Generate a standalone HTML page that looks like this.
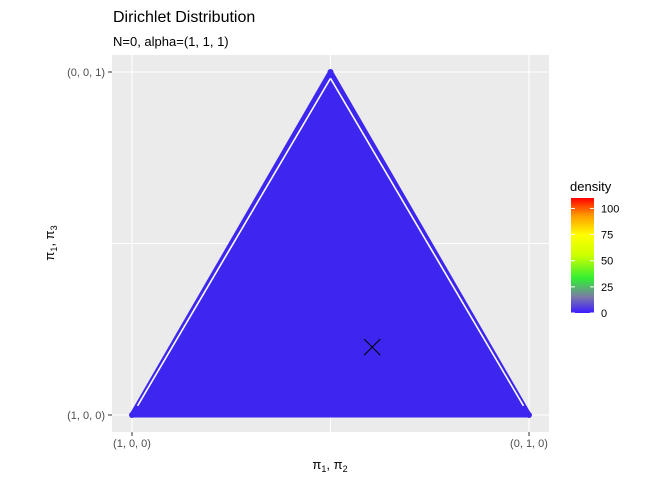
<!DOCTYPE html>
<html><head><meta charset="utf-8"><style>
body{margin:0;background:#fff;font-family:"Liberation Sans",sans-serif}
</style></head><body>
<svg width="672" height="480" xmlns="http://www.w3.org/2000/svg" font-family="Liberation Sans, sans-serif">
<defs><linearGradient id="g" x1="0" y1="1" x2="0" y2="0">
<stop offset="0" stop-color="#3d1cff"/><stop offset="0.14" stop-color="#7a7aa8"/><stop offset="0.3" stop-color="#33ee33"/><stop offset="0.5" stop-color="#ccff00"/><stop offset="0.68" stop-color="#ffff00"/><stop offset="0.85" stop-color="#ff9900"/><stop offset="1" stop-color="#ff0000"/></linearGradient></defs>
<text x="113" y="22" font-size="16">Dirichlet Distribution</text>
<text x="113" y="46" font-size="13">N=0, alpha=(1, 1, 1)</text>
<rect x="112" y="55" width="437" height="377" fill="#ebebeb"/>
<g id="grid" stroke="#fff" stroke-width="1.1"></g>
<g id="marks"></g>
<g id="axes" font-size="11" fill="#4d4d4d"></g>
<text x="330" y="469" font-size="13" text-anchor="middle">π<tspan font-size="9" dy="3">1</tspan><tspan dy="-3">, π</tspan><tspan font-size="9" dy="3">2</tspan></text>
<text transform="translate(54,243) rotate(-90)" font-size="13" text-anchor="middle">π<tspan font-size="9" dy="3">1</tspan><tspan dy="-3">, π</tspan><tspan font-size="9" dy="3">3</tspan></text>
<text x="570" y="191" font-size="13">density</text>
<rect x="571" y="198" width="23" height="115" fill="url(#g)"/>
<g id="leg" font-size="11" fill="#000"></g>
</svg>
<script>
const gridX=[0,0.5,1];
const gridY=[0,0.5,1];
const xTickLabels=["(1, 0, 0)","(0, 1, 0)"];
const yTickLabels=["(1, 0, 0)","(0, 0, 1)"];
const triX=[0,1,0.5];
const triY=[0,0,1];
const markerX=[0.605];
const markerY=[0.198];
const legendVals=[0,25,50,75,100];
const densityMax=110;
const sx=v=>132+v*397, sy=v=>415-v*343;
const NS="http://www.w3.org/2000/svg";
function mk(t,a,p){const e=document.createElementNS(NS,t);for(const k in a)e.setAttribute(k,a[k]);p.appendChild(e);return e;}
const grid=document.getElementById('grid');
gridX.forEach(v=>{const l=mk('line',{x1:sx(v),x2:sx(v),y1:55,y2:432},grid);});
gridY.forEach(v=>{const l=mk('line',{x1:112,x2:549,y1:sy(v),y2:sy(v)},grid);});
const m=document.getElementById('marks');
const pts=triX.map((x,i)=>sx(x)+','+sy(triY[i])).join(' ');
const poly=mk('polygon',{points:pts,fill:'#3d26f0',stroke:'#3d26f0','stroke-width':5,'stroke-linejoin':'round'},m);


const cx=(sx(triX[0])+sx(triX[1])+sx(triX[2]))/3, cy=(sy(triY[0])+sy(triY[1])+sy(triY[2]))/3;
function inset(i,f){return [sx(triX[i])+(cx-sx(triX[i]))*f, sy(triY[i])+(cy-sy(triY[i]))*f];}
[[0,2],[1,2]].forEach(([a,b])=>{const p=inset(a,0.028),q=inset(b,0.028);const l=mk('line',{x1:p[0],y1:p[1]-6,x2:q[0],y2:q[1],stroke:'#fff','stroke-width':1.6},m);});
triX.forEach((x,i)=>{const c=mk('circle',{cx:sx(x),cy:sy(triY[i]),r:3,fill:'#3d26f0'},m);});
markerX.forEach((x,i)=>{const X=sx(x),Y=sy(markerY[i]);const g=mk('path',{d:`M${X-8} ${Y-8}L${X+8} ${Y+8}M${X-8} ${Y+8}L${X+8} ${Y-8}`,stroke:'#000','stroke-width':1},m);});
const ax=document.getElementById('axes');
[0,1].forEach((v,i)=>{mk('line',{x1:sx(v),x2:sx(v),y1:432,y2:436,stroke:'#333'},ax);const t=mk('text',{x:sx(v),y:447,'text-anchor':'middle'},ax);t.textContent=xTickLabels[i];});
[0,1].forEach((v,i)=>{mk('line',{x1:108,x2:112,y1:sy(v),y2:sy(v),stroke:'#333'},ax);const t=mk('text',{x:105,y:sy(v)+4,'text-anchor':'end'},ax);t.textContent=yTickLabels[i];});
const leg=document.getElementById('leg');
legendVals.forEach(v=>{const y=313-v/densityMax*115;mk('line',{x1:571,x2:575,y1:y,y2:y,stroke:'#fff'},leg);mk('line',{x1:590,x2:594,y1:y,y2:y,stroke:'#fff'},leg);const t=mk('text',{x:601,y:y+4},leg);t.textContent=v;});
</script>
</body></html>
